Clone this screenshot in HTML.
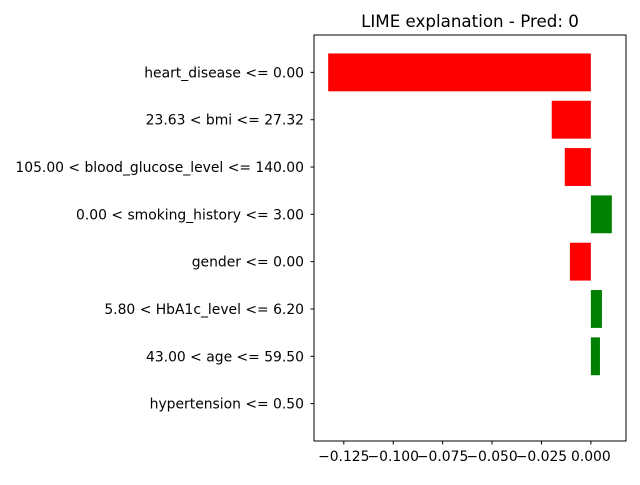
<!DOCTYPE html>
<html><head><meta charset="utf-8"><style>
body{margin:0;background:#fff;font-family:"Liberation Sans","DejaVu Sans",sans-serif;}
svg text{font-family:"DejaVu Sans","Liberation Sans",sans-serif;}
</style></head><body>
<svg id="chart" width="640" height="480" xmlns="http://www.w3.org/2000/svg">
<rect width="640" height="480" fill="#fff"/>
<text x="470" y="27" font-size="16.7" text-anchor="middle">LIME explanation - Pred: 0</text>
<g id="bars"></g>
<g id="yticks"></g>
<g id="xticks"></g>
<rect x="314" y="35" width="312" height="406" fill="none" stroke="#000" stroke-width="1"/>
</svg>
<script>
const categories = ["heart_disease <= 0.00","23.63 < bmi <= 27.32","105.00 < blood_glucose_level <= 140.00","0.00 < smoking_history <= 3.00","gender <= 0.00","5.80 < HbA1c_level <= 6.20","43.00 < age <= 59.50","hypertension <= 0.50"];
const weights = [-0.1329,-0.0198,-0.0132,0.0106,-0.0106,0.0056,0.0046,0.0];
const xTicks = [-0.125,-0.100,-0.075,-0.050,-0.025,0.000];
const xTickLabels = ["\u22120.125","\u22120.100","\u22120.075","\u22120.050","\u22120.025","0.000"];

const L=314,R=626,T=35,B=441;
const n=categories.length;
const dmin=Math.min(0,...weights), dmax=Math.max(0,...weights);
const pad=(dmax-dmin)*0.05;
const xmin=dmin-pad, xmax=dmax+pad;
function xs(v){return L+(v-xmin)/(xmax-xmin)*(R-L);}
const ylo=-0.4-0.39, yhi=n-1+0.4+0.39;
function ys(i){return T+(i-ylo)/(yhi-ylo)*(B-T);}
const NS="http://www.w3.org/2000/svg";
const bars=document.getElementById('bars'), yt=document.getElementById('yticks'), xt=document.getElementById('xticks');
const bh=(ys(0.4)-ys(-0.4));
categories.forEach((c,i)=>{
  const w=weights[i];
  const r=document.createElementNS(NS,'rect');
  const x0=xs(Math.min(0,w)), x1=xs(Math.max(0,w));
  r.setAttribute('x',x0);r.setAttribute('y',ys(i)-bh/2);
  r.setAttribute('width',Math.max(0,x1-x0));r.setAttribute('height',bh);
  r.setAttribute('fill',w>0?'#008000':'#ff0000');
  
  
  bars.appendChild(r);
  const tk=document.createElementNS(NS,'line');
  tk.setAttribute('x1',L-3.5);tk.setAttribute('x2',L);tk.setAttribute('y1',ys(i));tk.setAttribute('y2',ys(i));tk.setAttribute('stroke','#000');
  
  
  yt.appendChild(tk);
  const t=document.createElementNS(NS,'text');
  t.setAttribute('x',L-10);t.setAttribute('y',ys(i)+5);t.setAttribute('font-size','13.9');t.setAttribute('text-anchor','end');
  t.textContent=c;
  
  
  yt.appendChild(t);
});
xTicks.forEach((v,i)=>{
  const tk=document.createElementNS(NS,'line');
  tk.setAttribute('x1',xs(v));tk.setAttribute('x2',xs(v));tk.setAttribute('y1',B);tk.setAttribute('y2',B+3.5);tk.setAttribute('stroke','#000');
  
  
  xt.appendChild(tk);
  const t=document.createElementNS(NS,'text');
  t.setAttribute('x',xs(v));t.setAttribute('y',B+20);t.setAttribute('font-size','13.9');t.setAttribute('text-anchor','middle');
  t.textContent=xTickLabels[i];
  
  
  xt.appendChild(t);
});
</script>
</body></html>
